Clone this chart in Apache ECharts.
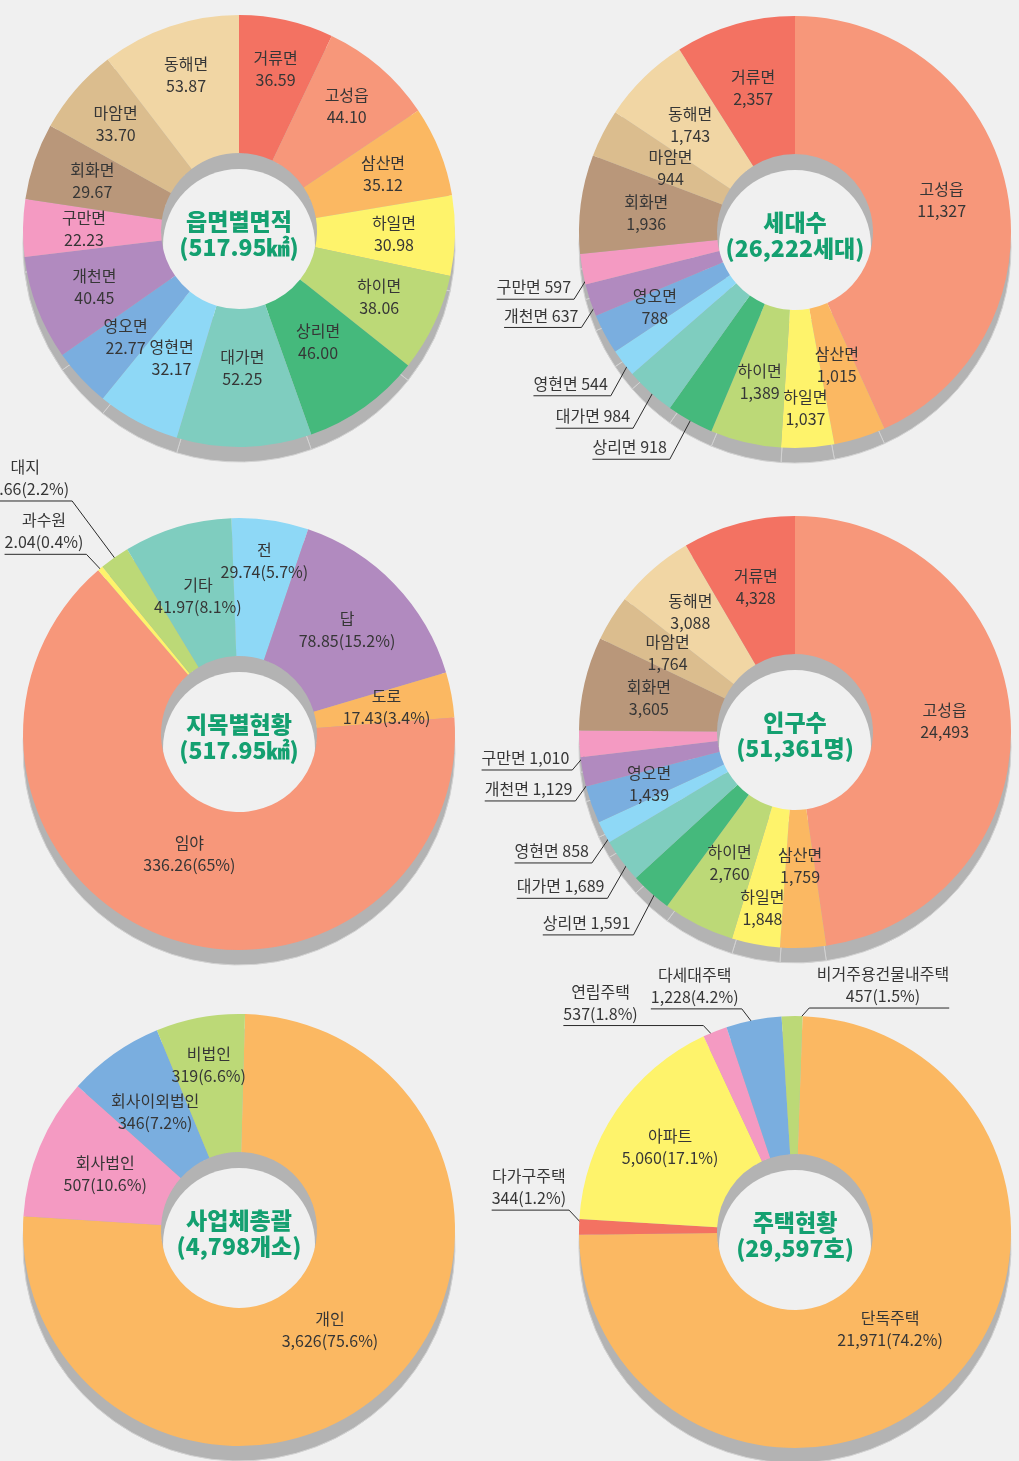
<!DOCTYPE html>
<html>
<head>
<meta charset="utf-8">
<script src="https://cdn.jsdelivr.net/npm/echarts@6/dist/echarts.min.js"></script>
<style>
  html, body { margin: 0; background: #f0f0f0; }
  #main { width: 1019px; height: 1461px; }
</style>
</head>
<body>
<div id="main"></div>
<script>
// 읍면별면적 (㎢)
const areaNames = ['거류면', '고성읍', '삼산면', '하일면', '하이면', '상리면', '대가면', '영현면', '영오면', '개천면', '구만면', '회화면', '마암면', '동해면'];
const areaValues = [36.59, 44.10, 35.12, 30.98, 38.06, 46.00, 52.25, 32.17, 22.77, 40.45, 22.23, 29.67, 33.70, 53.87];

// 세대수
const townNames = ['고성읍', '삼산면', '하일면', '하이면', '상리면', '대가면', '영현면', '영오면', '개천면', '구만면', '회화면', '마암면', '동해면', '거류면'];
const householdValues = [11327, 1015, 1037, 1389, 918, 984, 544, 788, 637, 597, 1936, 944, 1743, 2357];

// 인구수
const popValues = [24493, 1759, 1848, 2760, 1591, 1689, 858, 1439, 1129, 1010, 3605, 1764, 3088, 4328];

// 지목별현황
const landNames = ['전', '답', '도로', '임야', '과수원', '대지', '기타'];
const landValues = [29.74, 78.85, 17.43, 336.26, 2.04, 11.66, 41.97];
const landPct = ['5.7', '15.2', '3.4', '65', '0.4', '2.2', '8.1'];

// 사업체총괄
const bizNames = ['개인', '회사법인', '회사이외법인', '비법인'];
const bizValues = [3626, 507, 346, 319];
const bizPct = ['75.6', '10.6', '7.2', '6.6'];

// 주택현황
const houseNames = ['단독주택', '다가구주택', '아파트', '연립주택', '다세대주택', '비거주용건물내주택'];
const houseValues = [21971, 344, 5060, 537, 1228, 457];
const housePct = ['74.2', '1.2', '17.1', '1.8', '4.2', '1.5'];

const palette = {
  거류면: '#f37262', 고성읍: '#f7977a', 삼산면: '#fbb862', 하일면: '#fef36b', 하이면: '#bcd977',
  상리면: '#45b97c', 대가면: '#7fcdbf', 영현면: '#8ed8f6', 영오면: '#7aaedf', 개천면: '#b18abf',
  구만면: '#f49ac2', 회화면: '#b9977a', 마암면: '#dbbd8e', 동해면: '#f1d6a4',
  전: '#8ed8f6', 답: '#b18abf', 도로: '#fbb862', 임야: '#f7977a', 과수원: '#fef36b', 대지: '#bcd977', 기타: '#7fcdbf',
  개인: '#fbb862', 회사법인: '#f49ac2', 회사이외법인: '#7aaedf', 비법인: '#bcd977',
  단독주택: '#fbb862', 다가구주택: '#f37262', 아파트: '#fef36b', 연립주택: '#f49ac2', 다세대주택: '#7aaedf', 비거주용건물내주택: '#bcd977'
};

const R = 216, R0 = 78, DROP = 15;
const num = v => v.toLocaleString('en-US');

const pies = [
  {
    names: areaNames, values: areaValues, center: [239, 231], start: 90,
    title: '읍면별면적\n(517.95㎢)', text: (n, v) => n + '\n' + v.toFixed(2),
    labelR: 155, radius: { 거류면: 166, 고성읍: 165, 동해면: 165, 마암면: 163, 상리면: 136, 대가면: 137, 영현면: 144 },
    outside: {}
  },
  {
    names: townNames, values: householdValues, center: [795, 232], start: 90,
    title: '세대수\n(26,222세대)', text: (n, v) => n + '\n' + num(v),
    labelR: 150, radius: { 삼산면: 139, 하일면: 176, 하이면: 154, 영오면: 159, 마암면: 140 },
    outside: {
      구만면: { at: [-20, 32], inset: 12 }, 개천면: { at: [-20, 31], inset: 12 },
      영현면: { at: [-22, 40], inset: 12 }, 대가면: { at: [-25, 45], inset: 12 }, 상리면: { at: [-26, 49], inset: 12 }
    }
  },
  {
    names: landNames, values: landValues, center: [239, 734], start: 92,
    title: '지목별현황\n(517.95㎢)', text: (n, v, i) => n + '\n' + v.toFixed(2) + '(' + landPct[i] + '%)',
    labelR: 150, radius: { 전: 175, 임야: 130, 기타: 144 },
    outside: { 과수원: { at: [-17, -18], inset: 5 }, 대지: { at: [-44, -59], inset: 3 } }
  },
  {
    names: townNames, values: popValues, center: [795, 732], start: 90,
    title: '인구수\n(51,361명)', text: (n, v) => n + '\n' + num(v),
    labelR: 150, radius: { 삼산면: 134, 하일면: 179, 하이면: 146, 영오면: 155, 동해면: 159 },
    outside: {
      구만면: { at: [-23, 27], inset: 16 }, 개천면: { at: [-23, 32], inset: 16 },
      영현면: { at: [-26, 38], inset: 16 }, 대가면: { at: [-27, 47], inset: 16 }, 상리면: { at: [-28, 54], inset: 16 }
    }
  },
  {
    names: bizNames, values: bizValues, center: [239, 1230], start: 88.4,
    title: '사업체총괄\n(4,798개소)', text: (n, v, i) => n + '\n' + num(v) + '(' + bizPct[i] + '%)',
    labelR: 145, radius: { 개인: 135, 비법인: 168 },
    outside: {}
  },
  {
    names: houseNames, values: houseValues, center: [795, 1232], start: 88,
    title: '주택현황\n(29,597호)', text: (n, v, i) => n + '\n' + num(v) + '(' + housePct[i] + '%)',
    labelR: 145, radius: { 단독주택: 136, 아파트: 151 },
    outside: {
      다가구주택: { at: [-16, -17], inset: 6 }, 연립주택: { at: [-16, -17], inset: 12, len: 140 },
      다세대주택: { at: [-13, -17], inset: 6, len: 91 }, 비거주용건물내주택: { at: [17, -19], inset: 11, len: 140, side: 'right' }
    }
  }
];

function layoutLabel(p, c) {
  const cx = c.center[0], cy = c.center[1];
  const name = c.names[p.dataIndex];
  const o = c.outside[name];
  const r = p.labelRect;
  if (!o) {
    const lx = r.x + r.width / 2, ly = r.y + r.height / 2;
    const d = Math.hypot(lx - cx, ly - cy) || 1;
    const rr = c.radius[name] || c.labelR;
    return { x: cx + (lx - cx) * rr / d, y: cy + (ly - cy) * rr / d, align: 'center', verticalAlign: 'middle' };
  }
  const p0 = p.labelLinePoints[0];
  const k = 1 - o.inset / R;
  const s = [cx + (p0[0] - cx) * k, cy + (p0[1] - cy) * k];
  const e = [s[0] + o.at[0], s[1] + o.at[1]];
  const len = Math.max(o.len || 0, r.width + 3);
  const dir = o.side === 'right' ? 1 : -1;
  const end = [e[0] + dir * len, e[1]];
  return {
    x: end[0] - dir * r.width / 2, y: e[1] - 1, align: 'center', verticalAlign: 'bottom',
    labelLinePoints: [s, e, end]
  };
}

const series = [];
pies.forEach(c => {
  const cx = c.center[0], cy = c.center[1];
  const texts = c.names.map((n, i) => c.outside[n] && !c.text(n, c.values[i], i).includes('(')
    ? n + ' ' + (Number.isInteger(c.values[i]) ? num(c.values[i]) : c.values[i])
    : c.text(n, c.values[i], i));
  // 그림자
  series.push({
    type: 'pie', silent: true, center: [cx, cy + DROP], radius: [0, R], startAngle: c.start,
    data: c.values.map(v => ({ value: v })),
    itemStyle: { color: '#b3b3b3', borderColor: '#d2d2d2', borderWidth: 1 },
    label: { show: false }, labelLine: { show: false }, emphasis: { disabled: true }, z: 1
  });
  series.push({
    type: 'pie', silent: true, center: [cx, cy], radius: [0, R0], data: [1],
    itemStyle: { color: '#b3b3b3' }, label: { show: false }, labelLine: { show: false }, emphasis: { disabled: true }, z: 1
  });
  series.push({
    type: 'pie', silent: true, center: [cx, cy + 14], radius: [0, 76],
    data: [{ value: 1, name: c.title }],
    itemStyle: { color: '#f0f0f0' },
    label: {
      show: true, position: 'center', formatter: '{b}', offset: [0, -11],
      color: '#14a070', fontSize: 23, fontWeight: 900, lineHeight: 26,
      fontFamily: 'Noto Sans CJK KR'
    },
    labelLine: { show: false }, emphasis: { disabled: true }, z: 1
  });
  series.push({
    type: 'pie', silent: true, center: [cx, cy], radius: [R0, R], startAngle: c.start,
    avoidLabelOverlap: false,
    data: c.names.map((n, i) => {
      const item = { name: n, value: c.values[i], itemStyle: { color: palette[n] } };
      if (c.outside[n]) {
        item.label = { position: 'outside' };
        item.labelLine = { show: true };
      }
      return item;
    }),
    label: {
      show: true, position: 'inside', formatter: p => texts[p.dataIndex],
      color: '#363636', fontSize: 16, lineHeight: 22, fontFamily: 'Noto Sans CJK KR'
    },
    labelLine: { show: false, length: 10, length2: 10, lineStyle: { color: '#2a2a2a', width: 1 } },
    labelLayout: p => layoutLabel(p, c),
    emphasis: { disabled: true },
    z: 2
  });
});

const chart = echarts.init(document.getElementById('main'));
chart.setOption({
  backgroundColor: '#f0f0f0',
  animation: false,
  series: series
});
</script>
</body>
</html>
